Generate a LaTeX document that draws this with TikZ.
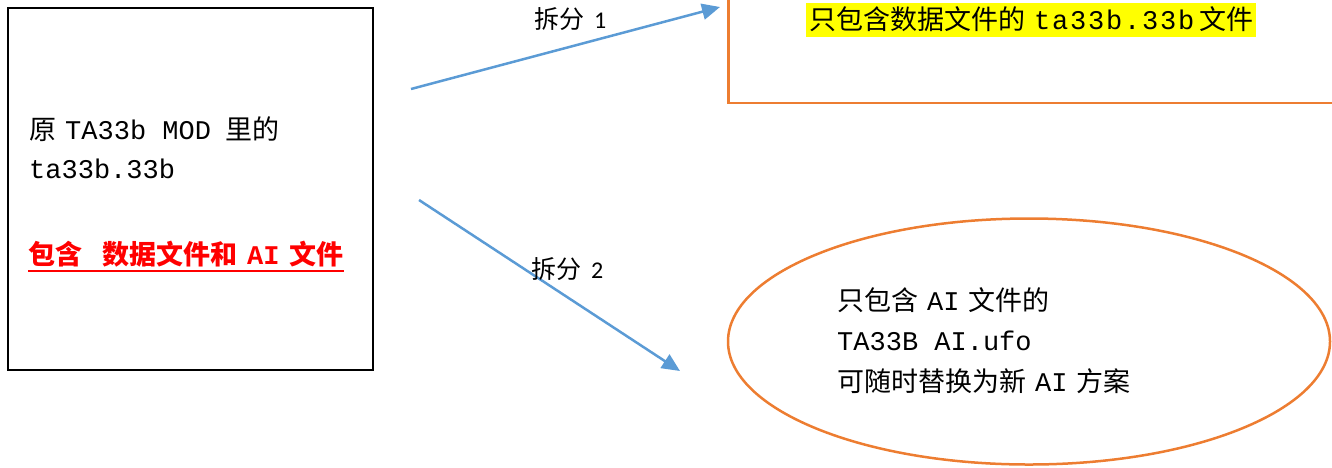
\documentclass[tikz,border=0pt]{standalone}
\usepackage{fontspec}
\setmainfont{Noto Sans CJK SC}
\newfontfamily\mn{Liberation Mono}
\newfontfamily\mnwide[LetterSpace=6.6]{Liberation Mono}
\newfontfamily\calib{Carlito}
\newcommand\gp{\hspace{9pt}}
\newcommand\redul[1]{\setbox0\hbox{#1}\rlap{\rule[-7.5pt]{\wd0}{2pt}}\box0}
\usetikzlibrary{arrows.meta,shapes.geometric}
\definecolor{arrowblue}{RGB}{91,155,213}
\definecolor{boxorange}{RGB}{237,125,49}
\definecolor{hlyellow}{RGB}{255,255,0}
\definecolor{txtred}{RGB}{255,0,0}
\tikzset{
  srcbox/.style={draw=black, line width=2pt, minimum width=365pt, minimum height=362pt, inner sep=0pt},
  outbox/.style={draw=boxorange, line width=2.5pt, inner sep=0pt},
  splitarrow/.style={draw=arrowblue, line width=2.5pt, -{Triangle[length=18pt,width=16pt]}},
  txt/.style={font=\fontsize{27}{39}\selectfont, inner sep=0pt, anchor=base west},
  lbl/.style={font=\fontsize{25}{29}\selectfont, inner sep=0pt, anchor=base west}
}
\begin{document}
\begin{tikzpicture}[x=1pt,y=-1pt]
\useasboundingbox (0,0) rectangle (1332,467);
\clip (0,0) rectangle (1332,467);
% source box
\node[srcbox] (src) at (190.5,189) {};
% output 1 (rectangle running off the page)
\node[outbox, minimum width=620pt, minimum height=140pt, anchor=south west] (dst1) at (727,104) {};
% output 2 (ellipse)
\node[outbox, ellipse, minimum width=602pt, minimum height=246pt] (dst2) at (1029,341.5) {};
% texts in source box
\node[txt] (t1) at (29,139) {原\gp{\mn TA33b MOD}\hspace{14pt}里的};
\node[txt] (t2) at (29,178) {\mn ta33b.33b};
\node[txt, text=txtred] (t3) at (28,264) {\redul{\bfseries 包含\hspace{20pt}数据文件和\hspace{10pt}{\mn\bfseries AI}\hspace{10pt}文件}};
% text in output 1
\node[txt, fill=hlyellow, inner xsep=3pt, text height=26pt, text depth=8pt] (t4) at (806,29) {只包含数据文件的\gp{\mnwide ta33b.33b}\hspace{5pt}文件\hspace{1pt}};
% texts in output 2
\node[txt] (e1) at (837,310) {只包含\gp{\mn AI}\gp 文件的};
\node[txt] (e2) at (837,350) {\mn TA33B AI.ufo};
\node[txt] (e3) at (837,391) {可随时替换为新\gp{\mn AI}\gp 方案};
% connectors
\coordinate (a1s) at (411,89);
\coordinate (a1e) at (720,7);
\coordinate (a2s) at (419,200);
\coordinate (a2e) at (680,371);
\draw[splitarrow] (a1s) -- (a1e);
\draw[splitarrow] (a2s) -- (a2e);
% labels
\node[lbl] (l1) at (534,28) {拆分\hspace{10pt}{\calib\fontsize{24}{28}\selectfont 1}};
\node[lbl] (l2) at (531,278) {拆分\hspace{10pt}{\calib\fontsize{24}{28}\selectfont 2}};
\end{tikzpicture}
\end{document}
